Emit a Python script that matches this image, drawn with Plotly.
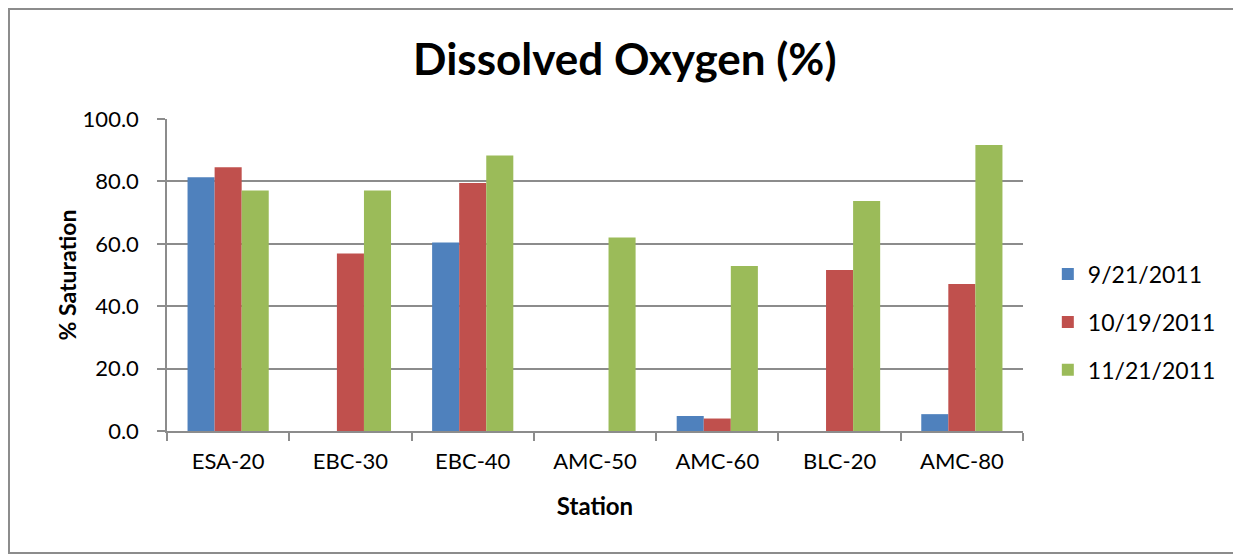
import plotly.graph_objects as go

stations = ["ESA-20", "EBC-30", "EBC-40", "AMC-50", "AMC-60", "BLC-20", "AMC-80"]
sep_2011 = [81.3, None, 60.4, None, 4.8, None, 5.4]
oct_2011 = [84.5, 56.9, 79.5, None, 4.0, 51.6, 47.1]
nov_2011 = [77.1, 77.1, 88.3, 62.0, 52.9, 73.7, 91.7]
series_names = ["9/21/2011", "10/19/2011", "11/21/2011"]
y_ticks = [0, 20, 40, 60, 80, 100]
y_tick_labels = ["0.0", "20.0", "40.0", "60.0", "80.0", "100.0"]

colors = ["#4F81BD", "#C0504D", "#9BBB59"]
FONT = "Lato"

fig = go.Figure()
for i, (name, vals) in enumerate(zip(series_names, [sep_2011, oct_2011, nov_2011])):
    fig.add_trace(go.Bar(
        x=stations, y=vals, name=name, marker_color=colors[i],
        marker_line_width=0, legendgroup=name,
    ))

grid_col = "#8C8C8C"
fig.update_layout(
    width=1241, height=554,
    margin=dict(l=159, r=226, t=111, b=131),
    paper_bgcolor="white", plot_bgcolor="white",
    barmode="group", bargap=0.336, bargroupgap=0,
    font=dict(family=FONT, color="black"),
    title=dict(text="<b>Dissolved Oxygen (%)</b>", x=0.497, xanchor="center",
               y=0.906, yanchor="middle", font=dict(size=44, family=FONT)),
    legend=dict(x=1.029, xanchor="left", y=0.349, yanchor="middle",
                font=dict(size=23, family=FONT), tracegroupgap=15,
                bgcolor="rgba(0,0,0,0)"),
    xaxis=dict(
        showline=True, linecolor=grid_col, linewidth=1.5,
        ticks="outside", tickson="boundaries", ticklen=8, tickcolor=grid_col,
        tickwidth=1.5, tickfont=dict(size=22, family=FONT), ticklabelstandoff=10,
        title=dict(text="<b>Station</b>", font=dict(size=24, family=FONT), standoff=25),
    ),
    yaxis=dict(
        range=[0, 100], tickvals=y_ticks, ticktext=y_tick_labels,
        showgrid=True, gridcolor=grid_col, gridwidth=1.5,
        showline=True, linecolor=grid_col, linewidth=1.5,
        ticks="outside", ticklen=8, tickcolor=grid_col, tickwidth=1.5,
        tickfont=dict(size=22, family=FONT), zeroline=False, ticklabelstandoff=14,
        title=dict(text="<b>% Saturation</b>", font=dict(size=23, family=FONT), standoff=0),
    ),
    shapes=[dict(type="rect", xref="paper", yref="paper",
                 x0=-0.1846, x1=1.6, y0=-0.391, y1=1.3526,
                 line=dict(color="#8C8C8C", width=2), fillcolor="rgba(0,0,0,0)", layer="below")],
)

fig.write_html("out.html")
